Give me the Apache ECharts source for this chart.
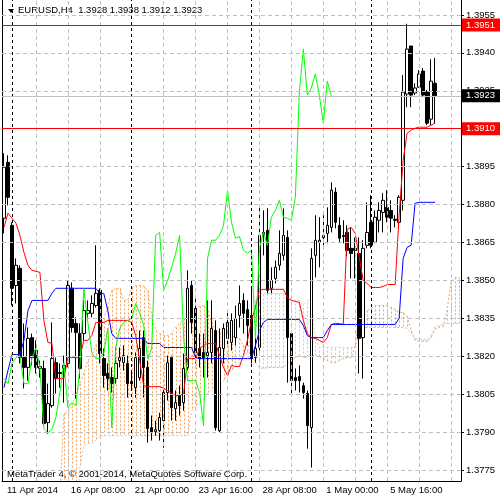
<!DOCTYPE html>
<html>
<head>
<meta charset="utf-8">
<script src="https://cdn.jsdelivr.net/npm/echarts@6/dist/echarts.min.js"></script>
<style>
  html, body { margin: 0; padding: 0; background: #fff; }
  #chart { width: 500px; height: 500px; }
</style>
</head>
<body>
<div id="chart"></div>
<script>
// EURUSD H4 bars, oldest first
var opens = [
  1.38746,1.38967,1.38718,1.38480,1.38548,1.38195,1.38156,1.38274,1.38223,1.38152,
  1.38152,1.37938,1.38005,1.38175,1.38136,1.38152,1.38172,1.38469,1.38330,1.38290,
  1.38290,1.38370,1.38370,1.38401,1.38461,1.38191,1.38132,1.38116,1.38112,1.38183,
  1.38175,1.38172,1.38100,1.38076,1.38116,1.38274,1.38156,1.37918,1.37902,1.37906,
  1.37946,1.38057,1.38195,1.37993,1.38045,1.38017,1.38156,1.38480,1.38389,1.38231,
  1.38215,1.38203,1.38215,1.38302,1.37906,1.38231,1.38271,1.38255,1.38274,1.38362,
  1.38421,1.38385,1.38362,1.38195,1.38235,1.38682,1.38698,1.38469,1.38508,1.38560,
  1.38599,1.38670,1.38290,1.38116,1.38120,1.38084,1.38053,1.37918,1.38599,1.38651,
  1.38670,1.38686,1.38710,1.38849,1.38718,1.38678,1.38690,1.38627,1.38627,1.38607,
  1.38274,1.38639,1.38730,1.38651,1.38738,1.38769,1.38789,1.38777,1.38742,1.38730,
  1.38817,1.39237,1.39427,1.39241,1.39264,1.39328,1.39245,1.39138,1.39280
];
var closes = [
  1.38948,1.38829,1.38469,1.38560,1.38195,1.38156,1.38271,1.38195,1.38156,1.38160,
  1.37934,1.38013,1.38191,1.38112,1.38132,1.38164,1.38480,1.38314,1.38294,1.38152,
  1.38381,1.38381,1.38409,1.38449,1.38211,1.38124,1.38112,1.38092,1.38172,1.38195,
  1.38203,1.38092,1.38092,1.38195,1.38231,1.38156,1.37914,1.37898,1.37910,1.37958,
  1.38057,1.38175,1.37997,1.38017,1.38005,1.38152,1.38469,1.38334,1.38215,1.38191,
  1.38191,1.38215,1.38310,1.37918,1.38235,1.38310,1.38334,1.38342,1.38350,1.38409,
  1.38370,1.38322,1.38191,1.38231,1.38678,1.38690,1.38461,1.38500,1.38552,1.38607,
  1.38678,1.38274,1.38104,1.38104,1.38104,1.38057,1.37926,1.38587,1.38659,1.38659,
  1.38678,1.38718,1.38857,1.38730,1.38667,1.38674,1.38619,1.38607,1.38619,1.38271,
  1.38627,1.38690,1.38639,1.38750,1.38777,1.38817,1.38750,1.38746,1.38738,1.38829,
  1.39245,1.39415,1.39233,1.39261,1.39316,1.39233,1.39122,1.39288,1.39230
];
var lows = [
  1.38686,1.38797,1.38401,1.38409,1.38172,1.38073,1.38104,1.38164,1.38132,1.38116,
  1.37926,1.37894,1.37997,1.38053,1.38076,1.38017,1.38156,1.38294,1.38033,1.38112,
  1.38263,1.38342,1.38354,1.38393,1.38172,1.38076,1.38065,1.38057,1.38092,1.38156,
  1.38144,1.38037,1.38065,1.38037,1.38104,1.38037,1.37859,1.37867,1.37886,1.37867,
  1.37839,1.38025,1.37946,1.37946,1.37966,1.37985,1.38144,1.38290,1.38172,1.38156,
  1.38116,1.38116,1.38172,1.37906,1.37898,1.38172,1.38243,1.38223,1.38243,1.38314,
  1.38290,1.38243,1.38172,1.38175,1.38223,1.38599,1.38449,1.38449,1.38488,1.38540,
  1.38579,1.38096,1.38053,1.38065,1.38057,1.38033,1.37835,1.37760,1.38512,1.38552,
  1.38639,1.38647,1.38690,1.38706,1.38651,1.38647,1.38595,1.38508,1.38508,1.38132,
  1.38112,1.38627,1.38627,1.38647,1.38690,1.38690,1.38730,1.38690,1.38710,1.38710,
  1.38777,1.39185,1.39185,1.39233,1.39261,1.39225,1.39114,1.39114,1.39120
];
var highs = [
  1.39003,1.38995,1.38730,1.38587,1.38560,1.38330,1.38314,1.38290,1.38263,1.38183,
  1.38183,1.38092,1.38334,1.38195,1.38172,1.38203,1.38500,1.38492,1.38354,1.38330,
  1.38421,1.38421,1.38441,1.38639,1.38469,1.38231,1.38172,1.38156,1.38235,1.38235,
  1.38243,1.38203,1.38144,1.38215,1.38302,1.38302,1.38183,1.37966,1.37946,1.37977,
  1.38084,1.38203,1.38203,1.38065,1.38084,1.38211,1.38540,1.38500,1.38433,1.38290,
  1.38290,1.38421,1.38421,1.38342,1.38310,1.38330,1.38381,1.38370,1.38401,1.38480,
  1.38449,1.38421,1.38472,1.38290,1.38789,1.38777,1.38785,1.38552,1.38579,1.38698,
  1.38785,1.38698,1.38302,1.38152,1.38164,1.38096,1.38065,1.38627,1.38758,1.38750,
  1.38758,1.38789,1.38888,1.38868,1.38750,1.38738,1.38718,1.38710,1.38670,1.38670,
  1.38659,1.38809,1.38837,1.38777,1.38809,1.38845,1.38857,1.38817,1.38758,1.38837,
  1.39312,1.39515,1.39427,1.39280,1.39332,1.39340,1.39253,1.39375,1.39380
];

// Ichimoku lines
var tenkan = [
  1.38710,1.38766,1.38746,1.38726,1.38678,1.38611,1.38560,1.38540,1.38536,1.38532,
  1.38342,1.38255,1.38251,1.38112,1.38112,1.38112,1.38195,1.38195,1.38195,1.38195,
  1.38263,1.38263,1.38282,1.38334,1.38334,1.38334,1.38342,1.38342,1.38342,1.38342,
  1.38342,1.38342,1.38334,1.38282,1.38183,1.38084,1.38080,1.38080,1.38080,1.38080,
  1.38073,1.38065,1.38053,1.38045,1.38045,1.38053,1.38191,1.38191,1.38191,1.38231,
  1.38243,1.38251,1.38251,1.38251,1.38203,1.38156,1.38124,1.38164,1.38160,1.38160,
  1.38203,1.38263,1.38342,1.38393,1.38461,1.38465,1.38465,1.38465,1.38465,1.38465,
  1.38465,1.38433,1.38421,1.38417,1.38413,1.38342,1.38290,1.38274,1.38271,1.38263,
  1.38255,1.38274,1.38326,1.38330,1.38330,1.38326,1.38702,1.38710,1.38686,1.38591,
  1.38500,1.38488,1.38472,1.38472,1.38472,1.38476,1.38484,1.38484,1.38484,1.38758,
  1.38975,1.39082,1.39094,1.39102,1.39106,1.39106,1.39106,1.39114,1.39122
];
var kijun = [
  1.38076,1.38144,1.38207,1.38207,1.38207,1.38263,1.38381,1.38421,1.38421,1.38421,
  1.38421,1.38421,1.38449,1.38469,1.38469,1.38469,1.38469,1.38469,1.38469,1.38469,
  1.38469,1.38469,1.38469,1.38469,1.38449,1.38449,1.38381,1.38290,1.38271,1.38271,
  1.38271,1.38271,1.38271,1.38271,1.38271,1.38271,1.38251,1.38251,1.38251,1.38251,
  1.38235,1.38235,1.38235,1.38235,1.38235,1.38235,1.38235,1.38235,1.38195,1.38191,
  1.38191,1.38191,1.38191,1.38191,1.38191,1.38191,1.38191,1.38191,1.38191,1.38191,
  1.38191,1.38191,1.38191,1.38243,1.38302,1.38334,1.38346,1.38346,1.38346,1.38346,
  1.38346,1.38346,1.38346,1.38346,1.38346,1.38322,1.38282,1.38274,1.38274,1.38274,
  1.38274,1.38302,1.38326,1.38326,1.38326,1.38326,1.38326,1.38326,1.38326,1.38326,
  1.38326,1.38326,1.38326,1.38326,1.38326,1.38326,1.38326,1.38326,1.38326,1.38350,
  1.38587,1.38631,1.38639,1.38805,1.38809,1.38809,1.38809,1.38809,1.38809
];
var senkouA = [
  1.37629,1.37629,1.37629,1.37629,1.37629,1.37629,1.37629,1.37629,1.37629,1.37629,
  1.37629,1.37629,1.37629,1.37629,1.37629,1.37974,1.37977,1.38005,1.38045,1.38092,
  1.38132,1.38183,1.38203,1.38243,1.38274,1.38350,1.38393,1.38461,1.38469,1.38469,
  1.38421,1.38421,1.38469,1.38480,1.38480,1.38476,1.38461,1.38362,1.38302,1.38290,
  1.38282,1.38282,1.38290,1.38314,1.38330,1.38350,1.38362,1.38381,1.38393,1.38397,
  1.38401,1.38381,1.38334,1.38302,1.38294,1.38290,1.38290,1.38282,1.38274,1.38271,
  1.38243,1.38223,1.38203,1.38175,1.38156,1.38152,1.38156,1.38156,1.38156,1.38156,
  1.38156,1.38172,1.38183,1.38195,1.38203,1.38195,1.38199,1.38203,1.38203,1.38199,
  1.38191,1.38183,1.38175,1.38175,1.38183,1.38191,1.38195,1.38195,1.38243,1.38362,
  1.38381,1.38381,1.38389,1.38401,1.38401,1.38401,1.38401,1.38393,1.38385,1.38373,
  1.38373,1.38358,1.38302,1.38263,1.38259,1.38259,1.38259,1.38274,1.38306,1.38314,
  1.38318,1.38381,1.38492,1.38512,1.38512
];
var senkouB = [
  1.37550,1.37550,1.37550,1.37550,1.37550,1.37550,1.37550,1.37550,1.37550,1.37550,
  1.37550,1.37550,1.37550,1.37550,1.37550,1.37550,1.37550,1.37550,1.37550,1.37760,
  1.37847,1.37855,1.37855,1.37867,1.37886,1.37886,1.37886,1.37886,1.37886,1.37886,
  1.37886,1.37886,1.37886,1.37886,1.37886,1.37886,1.37886,1.37886,1.37886,1.37886,
  1.37886,1.37886,1.37886,1.37886,1.37886,1.37886,1.37886,1.37985,1.38005,1.38013,
  1.38025,1.38053,1.38065,1.38073,1.38084,1.38104,1.38124,1.38144,1.38164,1.38175,
  1.38195,1.38215,1.38302,1.38421,1.38449,1.38449,1.38449,1.38449,1.38449,1.38449,
  1.38449,1.38433,1.38429,1.38421,1.38421,1.38405,1.38421,1.38421,1.38274,1.38235,
  1.38235,1.38235,1.38235,1.38235,1.38235,1.38235,1.38235,1.38235,1.38235,1.38282,
  1.38314,1.38314,1.38314,1.38314,1.38314,1.38314,1.38314,1.38314,1.38314,1.38314,
  1.38314,1.38310,1.38290,1.38271,1.38267,1.38267,1.38267,1.38282,1.38318,1.38322,
  1.38326,1.38330,1.38330,1.38330,1.38330
];

var chikouShift = 26;
var barSlots = 115;
var yTicks = [1.3775, 1.3790, 1.3805, 1.3820, 1.3835, 1.3850, 1.3865, 1.3880, 1.3895, 1.3910, 1.3925, 1.3940, 1.3955];
var timeLabelIdx = [0, 16, 32, 48, 64, 80, 96];
var timeLabels = ['11 Apr 2014', '16 Apr 08:00', '21 Apr 00:00', '23 Apr 16:00', '28 Apr 08:00', '1 May 00:00', '5 May 16:00'];
var weekStarts = [2, 32, 62, 92];
var redLevels = [1.3951, 1.3910];
var bidPrice = 1.3923;

var font = 'Liberation Sans';
var cats = [];
for (var i = 0; i < barSlots; i++) cats.push(String(i));
var candles = opens.map(function(o, i) { return [o, closes[i], lows[i], highs[i]]; });
var chikou = closes.slice(chikouShift);
var cloud = senkouA.map(function(a, i) { return [i, a, senkouB[i]]; });
var last = opens.length - 1;
var header = 'EURUSD,H4  ' + [opens[last], highs[last], lows[last], closes[last]].map(function(v) { return v.toFixed(4); }).join(' ');

var gridLines = [];
yTicks.forEach(function(v) { gridLines.push({ yAxis: v }); });
for (var k = 8; k < barSlots; k += 8) {
  if (weekStarts.indexOf(k) < 0) gridLines.push({ xAxis: k });
}
var sepLines = weekStarts.map(function(k) { return { xAxis: k }; });

var levelLines = redLevels.map(function(v) {
  return {
    yAxis: v,
    lineStyle: { color: '#ff0000', type: 'solid', width: 1 },
    label: { backgroundColor: '#ff0000' }
  };
});
levelLines.push({
  yAxis: bidPrice,
  lineStyle: { color: '#c0c0c0', type: 'solid', width: 1 },
  label: { backgroundColor: '#000000' }
});

function hatch(params, api) {
  var a = api.value(1), b = api.value(2);
  var cs = params.coordSys;
  var p1 = api.coord([api.value(0), a]);
  var p2 = api.coord([api.value(0), b]);
  var top = cs.y, bottom = cs.y + cs.height;
  var y1 = Math.max(top, Math.min(bottom, p1[1]));
  var y2 = Math.max(top, Math.min(bottom, p2[1]));
  if (Math.abs(y1 - y2) < 0.5) return null;
  var x = Math.round(p1[0]) + 0.5;
  return {
    type: 'line',
    shape: { x1: x, y1: y1, x2: x, y2: y2 },
    style: { stroke: a >= b ? '#f4a460' : '#d8bfd8', lineWidth: 1, lineDash: [2, 2] }
  };
}

var chart = echarts.init(document.getElementById('chart'));
chart.setOption({
  animation: false,
  backgroundColor: '#ffffff',
  grid: { left: 2, right: 39, top: 0, bottom: 19 },
  xAxis: {
    type: 'category',
    data: cats,
    boundaryGap: true,
    axisLine: { lineStyle: { color: '#000' } },
    axisTick: {
      alignWithLabel: true,
      length: 4,
      lineStyle: { color: '#000' },
      interval: function(idx) { return timeLabelIdx.indexOf(idx) >= 0; }
    },
    axisLabel: {
      interval: function(idx) { return timeLabelIdx.indexOf(idx) >= 0; },
      formatter: function(val, idx) { return timeLabels[timeLabelIdx.indexOf(idx)]; },
      align: 'left',
      padding: [0, 0, 0, 3],
      margin: 4,
      color: '#000',
      fontFamily: font,
      fontSize: 9.5
    },
    splitLine: { show: false }
  },
  yAxis: [{
    type: 'value',
    position: 'right',
    min: 1.37707,
    max: 1.39609,
    axisLine: { show: true, lineStyle: { color: '#000' } },
    axisTick: { show: true, length: 3, customValues: yTicks, lineStyle: { color: '#000' } },
    axisLabel: {
      customValues: yTicks,
      formatter: function(v) { return v.toFixed(4); },
      margin: 5,
      color: '#000',
      fontFamily: font,
      fontSize: 9.5
    },
    splitLine: { show: false }
  }, {
    type: 'value',
    position: 'left',
    min: 1.37707,
    max: 1.39609,
    axisLine: { show: true, lineStyle: { color: '#000' } },
    axisTick: { show: false },
    axisLabel: { show: false },
    splitLine: { show: false }
  }],
  graphic: [
    { type: 'polygon', shape: { points: [[8, 9], [14, 9], [11, 13]] }, style: { fill: '#000' } },
    { type: 'text', left: 18, top: 5, style: { text: header, fill: '#000', font: '9.5px ' + font } },
    { type: 'text', left: 7, top: 469, style: { text: 'MetaTrader 4, \u00a9 2001-2014, MetaQuotes Software Corp.', fill: '#000', font: '9.5px ' + font } }
  ],
  series: [
    {
      type: 'line',
      data: [],
      z: 0,
      silent: true,
      markLine: {
        silent: true,
        precision: 5,
        symbol: ['none', 'none'],
        label: { show: false },
        lineStyle: { color: '#c0c0c0', type: [4, 3], width: 1 },
        data: gridLines
      }
    },
    {
      type: 'line',
      data: [],
      z: 0,
      silent: true,
      markLine: {
        silent: true,
        precision: 5,
        symbol: ['none', 'none'],
        label: { show: false },
        lineStyle: { color: '#000', type: [3, 3], width: 1 },
        data: sepLines
      }
    },
    {
      name: 'cloud',
      type: 'custom',
      renderItem: hatch,
      data: cloud,
      z: 1,
      silent: true
    },
    {
      name: 'Senkou A',
      type: 'line',
      data: senkouA,
      symbol: 'none',
      z: 2,
      lineStyle: { color: '#f4a460', width: 1, type: [2, 2] }
    },
    {
      name: 'Senkou B',
      type: 'line',
      data: senkouB,
      symbol: 'none',
      z: 2,
      lineStyle: { color: '#d8bfd8', width: 1, type: [2, 2] }
    },
    {
      name: 'EURUSD',
      type: 'candlestick',
      data: candles,
      barWidth: 3,
      z: 3,
      itemStyle: {
        color: '#ffffff',
        color0: '#000000',
        borderColor: '#000000',
        borderColor0: '#000000',
        borderWidth: 1
      }
    },
    {
      name: 'Tenkan',
      type: 'line',
      data: tenkan,
      symbol: 'none',
      z: 4,
      lineStyle: { color: '#ff0000', width: 1 }
    },
    {
      name: 'Kijun',
      type: 'line',
      data: kijun,
      symbol: 'none',
      z: 4,
      lineStyle: { color: '#0000ff', width: 1 }
    },
    {
      name: 'Chikou',
      type: 'line',
      data: chikou,
      symbol: 'none',
      z: 4,
      lineStyle: { color: '#00ff00', width: 1 }
    },
    {
      type: 'line',
      data: [],
      z: 5,
      silent: true,
      markLine: {
        silent: true,
        precision: 5,
        symbol: ['none', 'none'],
        label: {
          show: true,
          position: 'end',
          distance: 1,
          formatter: function(p) { return p.value.toFixed(4); },
          color: '#fff',
          fontFamily: font,
          fontSize: 9.5,
          padding: [2, 5, 1, 4]
        },
        data: levelLines
      }
    }
  ]
});
</script>
</body>
</html>
